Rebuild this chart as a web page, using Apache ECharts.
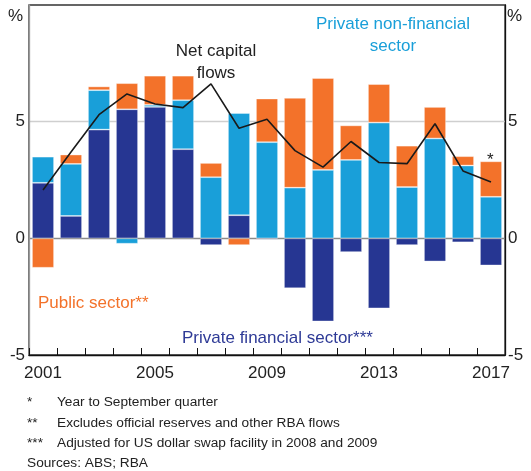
<!DOCTYPE html>
<html>
<head>
<meta charset="utf-8">
<script src="https://cdn.jsdelivr.net/npm/echarts@6/dist/echarts.min.js"></script>
<style>
html,body{margin:0;padding:0;background:#fff;}
#c{width:531px;height:471px;}
</style>
</head>
<body>
<div id="c"></div>
<script>
var years = ['2001','2002','2003','2004','2005','2006','2007','2008','2009','2010','2011','2012','2013','2014','2015','2016','2017'];
var privateFinancial = [2.38, 0.96, 4.66, 5.53, 5.63, 3.82, -0.29, 0.99, -0.05, -2.14, -3.56, -0.59, -3.0, -0.29, -0.99, -0.17, -1.16];
var privateNonFinancial = [1.12, 2.23, 1.69, -0.23, 0.09, 2.10, 2.62, 4.38, 4.12, 2.17, 2.93, 3.36, 4.96, 2.20, 4.28, 3.12, 1.78];
var publicSector = [-1.26, 0.40, 0.16, 1.12, 1.25, 1.05, 0.61, -0.29, 1.87, 3.85, 3.94, 1.48, 1.65, 1.77, 1.35, 0.40, 1.52];
var netCapitalFlows = [2.07, 3.70, 5.30, 6.19, 5.76, 5.60, 6.62, 4.72, 5.10, 3.76, 3.05, 4.15, 3.25, 3.20, 4.91, 2.89, 2.41];
var yTicks = [-5, 0, 5, 10];

var FONT = '"Liberation Sans", Arial, sans-serif';
var chart = echarts.init(document.getElementById('c'), null, {renderer:'canvas'});

function yAxis(pos, lineColor, margin, showSplit) {
  return {
    type: 'value', position: pos, min: yTicks[0], max: yTicks[yTicks.length-1], interval: 5,
    axisLine: {show: true, lineStyle: {color: lineColor, width: 1.3}},
    axisTick: {show: false},
    axisLabel: {
      margin: margin, color: '#222', fontSize: 17, fontFamily: FONT,
      formatter: function (v) { return v === 10 ? '' : String(v); }
    },
    splitLine: {show: showSplit, lineStyle: {color: ['rgba(0,0,0,0)', '#8a8a8a', '#cfcfcf', 'rgba(0,0,0,0)'], width: 1.3}}
  };
}

var barBorder = {borderColor: 'rgba(255,255,255,0.45)', borderWidth: 0.8};

function txt(x, y, s, size, color, align) {
  return {type: 'text', x: x, y: y, style: {text: s, font: size + 'px ' + FONT, fill: color, align: align || 'left', verticalAlign: 'top', lineHeight: size === 17 ? 21.5 : size * 1.2}};
}

chart.setOption({
  animation: false,
  backgroundColor: '#fff',
  grid: {left: 29, right: 26, top: 5, bottom: 116, show: true, borderColor: '#333', borderWidth: 1.3, backgroundColor: 'transparent'},
  xAxis: {
    type: 'category', data: years, position: 'bottom',
    axisLine: {onZero: false, lineStyle: {color: '#111', width: 1.3}},
    axisTick: {show: true, inside: true, length: 7, interval: 0, lineStyle: {color: '#111', width: 1}},
    axisLabel: {interval: 3, margin: 10, color: '#222', fontSize: 17, fontFamily: FONT}
  },
  yAxis: [yAxis('left', '#999', 4, true), yAxis('right', '#111', 3, false)],
  series: [
    {name: 'Private financial sector', type: 'bar', stack: 's', data: privateFinancial, barWidth: 22,
     itemStyle: Object.assign({color: '#263692'}, barBorder)},
    {name: 'Private non-financial sector', type: 'bar', stack: 's', data: privateNonFinancial, barWidth: 22,
     itemStyle: Object.assign({color: '#199fd9'}, barBorder)},
    {name: 'Public sector', type: 'bar', stack: 's', data: publicSector, barWidth: 22,
     itemStyle: Object.assign({color: '#f3722a'}, barBorder)},
    {name: 'Net capital flows', type: 'line', data: netCapitalFlows, symbol: 'none', z: 5,
     lineStyle: {color: '#1a1a1a', width: 1.6}}
  ],
  graphic: [
    txt(8, 6, '%', 17, '#222'),
    txt(507, 6, '%', 17, '#222'),
    txt(216, 41, 'Net capital\nflows', 17, '#222', 'center'),
    txt(393, 14, 'Private non-financial\nsector', 17, '#199fd9', 'center'),
    txt(38, 293, 'Public sector**', 17, '#f3722a'),
    txt(182, 328, 'Private financial sector***', 17, '#2e3a96'),
    txt(487, 150, '*', 17, '#222'),
    txt(27, 394, '*', 13.7, '#222'),
    txt(57, 394, 'Year to September quarter', 13.7, '#222'),
    txt(27, 415, '**', 13.7, '#222'),
    txt(57, 415, 'Excludes official reserves and other RBA flows', 13.7, '#222'),
    txt(27, 435, '***', 13.7, '#222'),
    txt(57, 435, 'Adjusted for US dollar swap facility in 2008 and 2009', 13.7, '#222'),
    txt(27, 455, 'Sources: ABS; RBA', 13.7, '#222')
  ]
});
</script>
</body>
</html>
